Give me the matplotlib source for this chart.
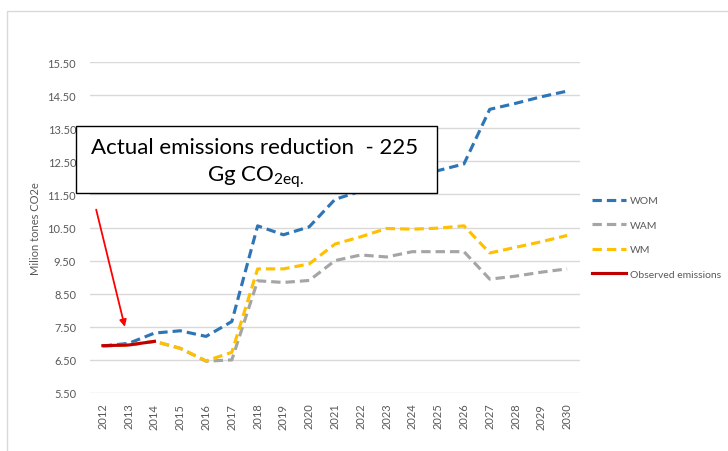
import matplotlib
matplotlib.use("Agg")
import matplotlib.pyplot as plt
from matplotlib.lines import Line2D
from matplotlib.patches import Rectangle

plt.rcParams['font.family'] = ['Lato', 'DejaVu Sans']
plt.rcParams['mathtext.fontset'] = 'custom'
plt.rcParams['mathtext.rm'] = 'Lato'

# data
years = [str(y) for y in range(2012, 2031)]
wom = [6.92, 7.00, 7.31, 7.38, 7.21, 7.66, 10.55, 10.28, 10.52, 11.35, 11.60, 11.72,
       12.02, 12.22, 12.42, 14.07, 14.25, 14.45, 14.62]
wam = [6.92, 6.95, 7.06, 6.85, 6.46, 6.50, 8.89, 8.84, 8.90, 9.50, 9.67, 9.61,
       9.77, 9.77, 9.77, 8.94, 9.03, 9.15, 9.25]
wm = [6.92, 6.95, 7.06, 6.85, 6.47, 6.73, 9.25, 9.25, 9.40, 10.00, 10.22, 10.47,
      10.45, 10.48, 10.55, 9.73, 9.90, 10.07, 10.26]
observed = [6.93, 6.95, 7.06]
yticks = [5.5, 6.5, 7.5, 8.5, 9.5, 10.5, 11.5, 12.5, 13.5, 14.5, 15.5]

grey = '#595959'
fig = plt.figure(figsize=(7.28, 4.52), dpi=100)
ax = fig.add_axes([90 / 728, 1 - 394 / 452, 490 / 728, 331 / 452])

x = list(range(len(years)))
ax.plot(x, wom, color='#2E75B6', lw=2.25, ls=(0, (3, 1.6)), label='WOM')
ax.plot(x, wam, color='#A5A5A5', lw=2.25, ls=(0, (3, 1.6)), label='WAM')
ax.plot(x, wm, color='#FFC000', lw=2.25, ls=(0, (3, 1.6)), label='WM')
ax.plot(x[:len(observed)], observed, color='#C00000', lw=2.25, label='Observed emissions')

ax.set_xlim(-0.5, len(years) - 0.5)
ax.set_ylim(5.5, 15.5)
ax.set_yticks(yticks)
ax.set_yticklabels([f"{v:.2f}" for v in yticks], fontsize=8, color=grey)
ax.set_xticks(x)
ax.set_xticklabels(years, rotation=90, fontsize=8, color=grey)
ax.tick_params(axis='y', length=0, pad=10)
ax.tick_params(axis='x', length=0, pad=7)
ax.grid(axis='y', color='#d9d9d9', lw=1)
ax.set_axisbelow(True)
for s in ax.spines.values():
    s.set_visible(False)
ax.set_ylabel('Milion tones CO2e', fontsize=8, color=grey, labelpad=5)

# arrow
ax.annotate('', xy=(0.85, 7.5), xytext=(-0.26, 11.04),
            arrowprops=dict(arrowstyle='-|>', color='#FF0000', lw=1.3,
                            mutation_scale=10, shrinkA=0, shrinkB=0),
            annotation_clip=False)

# text box
fig.patches.append(Rectangle((76 / 728, 1 - 194 / 452), 361 / 728, 67 / 452,
                             transform=fig.transFigure, facecolor='white',
                             edgecolor='black', lw=1, zorder=5))
fig.text(255 / 728, 1 - 148 / 452, 'Actual emissions reduction  - 225', fontsize=16,
         ha='center', va='center', zorder=6)
fig.text(256 / 728, 1 - 177 / 452, r'Gg CO$_{\mathrm{2eq.}}$', fontsize=16,
         ha='center', va='center', zorder=6)

# chart border
fig.lines.append(Line2D([7 / 728, 7 / 728, 1], [0, 1 - 12 / 452, 1 - 12 / 452],
                        transform=fig.transFigure, color='#d9d9d9', lw=1))

leg = fig.legend(loc='upper left', bbox_to_anchor=(588 / 728, 1 - 193 / 452),
                 frameon=False, fontsize=7.5, handlelength=3.2, labelspacing=1.45,
                 handletextpad=0.4, borderaxespad=0)
for t in leg.get_texts():
    t.set_color(grey)

fig.savefig('out.png', dpi=100)
